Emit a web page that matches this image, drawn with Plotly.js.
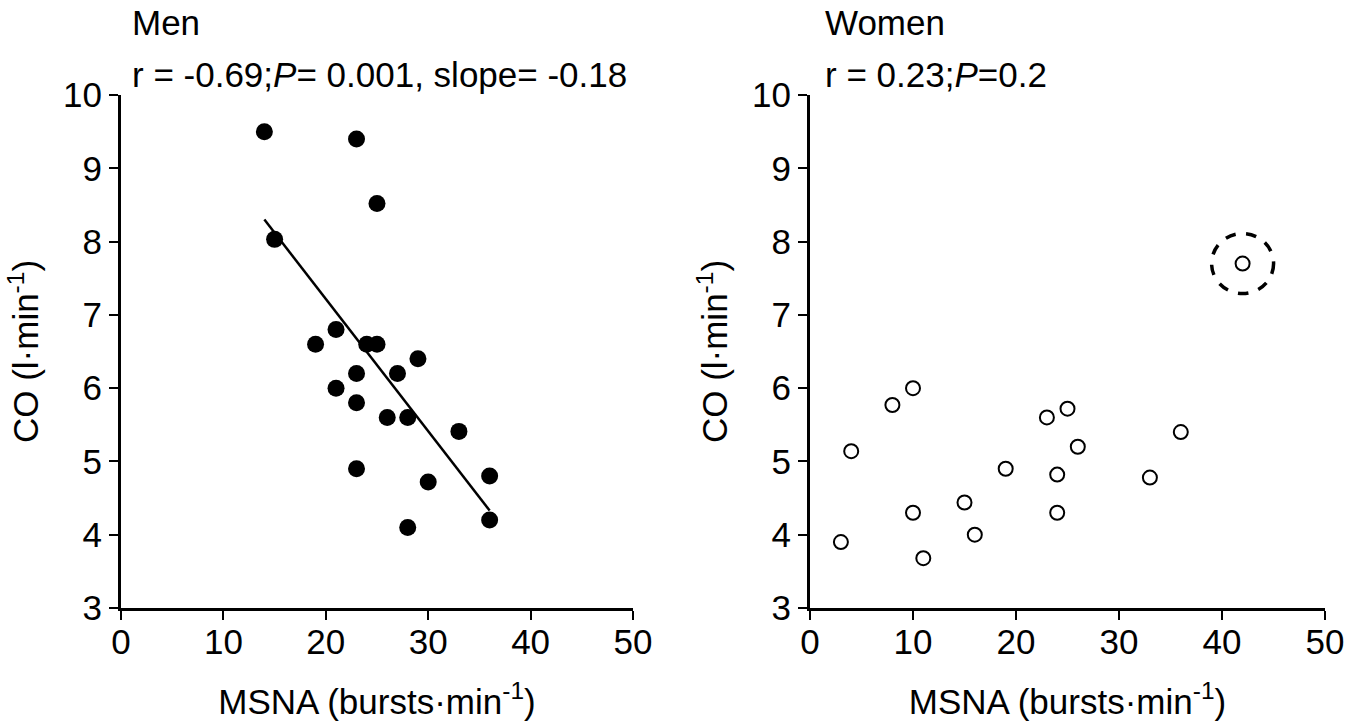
<!DOCTYPE html>
<html>
<head>
<meta charset="utf-8">
<script src="https://cdn.plot.ly/plotly-3.0.1.min.js"></script>
<style>html,body{margin:0;padding:0;background:#fff;}#chart{width:1365px;height:728px;}</style>
</head>
<body>
<div id="chart"></div>
<script>
// Men (filled circles)
const menMSNA = [14, 23, 25, 15, 21, 19, 24, 25, 29, 23, 27, 21, 23, 26, 28, 33, 23, 36, 30, 36, 28];
const menCO   = [9.5, 9.4, 8.52, 8.03, 6.8, 6.6, 6.6, 6.6, 6.4, 6.2, 6.2, 6.0, 5.8, 5.6, 5.6, 5.41, 4.9, 4.8, 4.72, 4.2, 4.1];
// Men regression line end points
const menFitX = [14, 36];
const menFitY = [8.30, 4.33];
// Women (open circles)
const womenMSNA = [42, 10, 8, 25, 23, 4, 26, 36, 19, 24, 33, 15, 10, 24, 16, 3, 11];
const womenCO   = [7.7, 6.0, 5.77, 5.72, 5.6, 5.14, 5.2, 5.4, 4.9, 4.82, 4.78, 4.44, 4.3, 4.3, 4.0, 3.9, 3.68];
// highlighted (outlier) woman
const outlierMSNA = 42;
const outlierCO = 7.7;

const xTicks = [0, 10, 20, 30, 40, 50];
const yTicks = [3, 4, 5, 6, 7, 8, 9, 10];

const FONT = 'Liberation Sans, Arial, sans-serif';
const FS = 35;

function axisX(domain, anchor) {
  return {
    domain: domain, anchor: anchor, range: [0, 50], tickvals: xTicks, ticktext: xTicks.map(String),
    showgrid: false, zeroline: false, showline: true, linecolor: '#000', linewidth: 3,
    ticks: 'outside', ticklen: 9, tickwidth: 2, tickcolor: '#000',
    ticklabelstandoff: -8,
    tickfont: {family: FONT, size: FS, color: '#000'},
    title: {text: 'MSNA (bursts·min<sup>-1</sup>)', font: {family: FONT, size: FS, color: '#000'}, standoff: 30},
    fixedrange: true
  };
}
function axisY(domain, anchor) {
  return {
    domain: domain, anchor: anchor, range: [3, 10], tickvals: yTicks, ticktext: yTicks.map(String),
    showgrid: false, zeroline: false, showline: true, linecolor: '#000', linewidth: 3,
    ticks: 'outside', ticklen: 9, tickwidth: 2, tickcolor: '#000',
    tickfont: {family: FONT, size: FS, color: '#000'},
    title: {text: 'CO (l·min<sup>-1</sup>)', font: {family: FONT, size: FS, color: '#000'}, standoff: 14},
    fixedrange: true
  };
}

const yDom = [120/728, 633/728];

const data = [
  {x: menFitX, y: menFitY, xaxis: 'x', yaxis: 'y', mode: 'lines', line: {color: '#000', width: 2.5}, hoverinfo: 'skip'},
  {x: menMSNA, y: menCO, xaxis: 'x', yaxis: 'y', mode: 'markers', marker: {symbol: 'circle', size: 17, color: '#000', line: {width: 0}}},
  {x: womenMSNA, y: womenCO, xaxis: 'x2', yaxis: 'y2', mode: 'markers', marker: {symbol: 'circle-open', size: 14, color: '#000', line: {width: 2, color: '#000'}}}
];

const layout = {
  width: 1365, height: 728,
  margin: {l: 0, r: 0, t: 0, b: 0},
  paper_bgcolor: '#fff', plot_bgcolor: 'rgba(0,0,0,0)',
  showlegend: false,
  xaxis: axisX([121/1365, 633/1365], 'y'),
  yaxis: axisY(yDom, 'x'),
  xaxis2: axisX([810/1365, 1325/1365], 'y2'),
  yaxis2: axisY(yDom, 'x2'),
  shapes: [
    {type: 'circle', xref: 'x2', yref: 'y2', xsizemode: 'pixel', ysizemode: 'pixel',
     xanchor: outlierMSNA, yanchor: outlierCO, x0: -31, x1: 31, y0: -30, y1: 30,
     line: {color: '#000', width: 3.5, dash: 'dash'}}
  ],
  annotations: [
    {xref: 'paper', yref: 'paper', x: 130/1365, y: 1 - 22/728, xanchor: 'left', yanchor: 'middle', showarrow: false,
     text: 'Men', font: {family: FONT, size: FS, color: '#000'}},
    {xref: 'paper', yref: 'paper', x: 130/1365, y: 1 - 75/728, xanchor: 'left', yanchor: 'middle', showarrow: false,
     text: 'r = -0.69;<i>P</i>= 0.001, slope= -0.18', font: {family: FONT, size: FS, color: '#000'}},
    {xref: 'paper', yref: 'paper', x: 823/1365, y: 1 - 22/728, xanchor: 'left', yanchor: 'middle', showarrow: false,
     text: 'Women', font: {family: FONT, size: FS, color: '#000'}},
    {xref: 'paper', yref: 'paper', x: 823/1365, y: 1 - 75/728, xanchor: 'left', yanchor: 'middle', showarrow: false,
     text: 'r = 0.23;<i>P</i>=0.2', font: {family: FONT, size: FS, color: '#000'}}
  ]
};

Plotly.newPlot('chart', data, layout, {displayModeBar: false, staticPlot: true});
</script>
</body>
</html>
